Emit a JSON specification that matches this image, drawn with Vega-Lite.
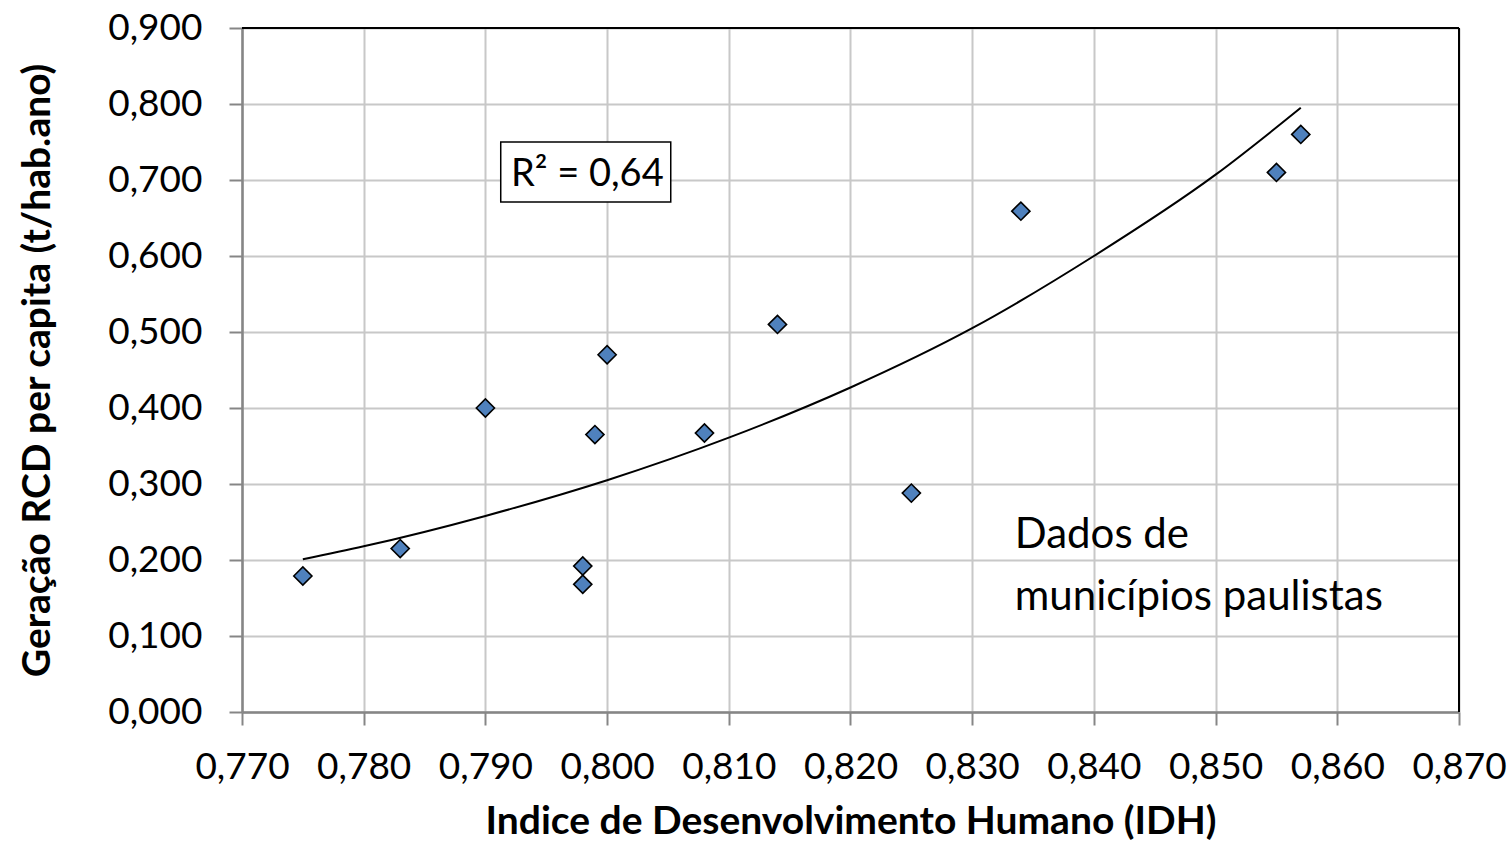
{
  "$schema": "https://vega.github.io/schema/vega-lite/v6.json",
  "width": 1217,
  "height": 684,
  "autosize": "none",
  "padding": {"left": 242, "top": 28, "right": 53, "bottom": 133},
  "background": "white",
  "config": {
    "view": {"stroke": null},
    "axis": {
      "labelFont": "Lato",
      "labelFontSize": 37,
      "labelColor": "#000000",
      "titleFont": "Lato",
      "titleFontSize": 39,
      "titleFontWeight": "bold",
      "titleColor": "#000000",
      "domainColor": "#868686",
      "domainWidth": 2.5,
      "tickColor": "#868686",
      "tickWidth": 2,
      "tickSize": 13,
      "gridColor": "#c8c8c8",
      "gridWidth": 2,
      "zindex": 1
    }
  },
  "datasets": {
    "municipios": [
      {"idh": 0.775, "rcd": 0.179},
      {"idh": 0.783, "rcd": 0.215},
      {"idh": 0.790, "rcd": 0.400},
      {"idh": 0.798, "rcd": 0.192},
      {"idh": 0.798, "rcd": 0.168},
      {"idh": 0.799, "rcd": 0.365},
      {"idh": 0.800, "rcd": 0.470},
      {"idh": 0.808, "rcd": 0.367},
      {"idh": 0.814, "rcd": 0.510},
      {"idh": 0.825, "rcd": 0.288},
      {"idh": 0.834, "rcd": 0.659},
      {"idh": 0.855, "rcd": 0.710},
      {"idh": 0.857, "rcd": 0.760}
    ],
    "tendencia": [
      {"idh": 0.775, "rcd": 0.201},
      {"idh": 0.780, "rcd": 0.218},
      {"idh": 0.790, "rcd": 0.258},
      {"idh": 0.800, "rcd": 0.305},
      {"idh": 0.810, "rcd": 0.361},
      {"idh": 0.820, "rcd": 0.427},
      {"idh": 0.830, "rcd": 0.505},
      {"idh": 0.840, "rcd": 0.600},
      {"idh": 0.850, "rcd": 0.707},
      {"idh": 0.857, "rcd": 0.795}
    ],
    "ajuste": [{"rotulo": "R² = 0,64"}],
    "fonte": [{"rotulo": "Dados de municípios paulistas"}]
  },
  "layer": [
    {
      "data": {"name": "tendencia"},
      "mark": {"type": "line", "color": "#000000", "strokeWidth": 2, "interpolate": "monotone"},
      "encoding": {
        "x": {
          "field": "idh",
          "type": "quantitative",
          "title": "Indice de Desenvolvimento Humano (IDH)",
          "scale": {"domain": [0.77, 0.87], "nice": false, "zero": false},
          "axis": {
            "values": [0.77, 0.78, 0.79, 0.8, 0.81, 0.82, 0.83, 0.84, 0.85, 0.86, 0.87],
            "labelExpr": "replace(format(datum.value, '.3f'), '.', ',')",
            "labelPadding": 24,
            "titlePadding": 17,
            "labelFlush": false,
            "labelOverlap": false
          }
        },
        "y": {
          "field": "rcd",
          "type": "quantitative",
          "title": "Geração RCD per capita (t/hab.ano)",
          "scale": {"domain": [0, 0.9], "nice": false},
          "axis": {
            "values": [0, 0.1, 0.2, 0.3, 0.4, 0.5, 0.6, 0.7, 0.8, 0.9],
            "labelExpr": "replace(format(datum.value, '.3f'), '.', ',')",
            "labelPadding": 27,
            "titlePadding": 50,
            "labelFlush": false,
            "labelOverlap": false
          }
        }
      }
    },
    {
      "data": {"name": "ajuste"},
      "mark": {"type": "rule", "color": "#000000", "strokeWidth": 2},
      "encoding": {"y": {"datum": 0.9, "type": "quantitative"}}
    },
    {
      "data": {"name": "ajuste"},
      "mark": {"type": "rule", "color": "#000000", "strokeWidth": 2},
      "encoding": {"x": {"datum": 0.87, "type": "quantitative"}}
    },
    {
      "data": {"name": "municipios"},
      "mark": {"type": "point", "shape": "diamond", "filled": true, "fill": "#4F81BD", "stroke": "#000000", "strokeWidth": 1.6, "size": 330, "opacity": 1},
      "encoding": {
        "x": {"field": "idh", "type": "quantitative"},
        "y": {"field": "rcd", "type": "quantitative"}
      }
    },
    {
      "data": {"name": "ajuste"},
      "mark": {"type": "rect", "fill": "white", "stroke": "#000000", "strokeWidth": 1.5},
      "encoding": {
        "x": {"datum": 0.79126, "type": "quantitative"},
        "x2": {"datum": 0.80523},
        "y": {"datum": 0.750, "type": "quantitative"},
        "y2": {"datum": 0.671}
      }
    },
    {
      "data": {"name": "ajuste"},
      "mark": {"type": "text", "font": "Lato", "fontSize": 38, "align": "left", "baseline": "alphabetic", "color": "#000000"},
      "encoding": {
        "x": {"datum": 0.7921, "type": "quantitative"},
        "y": {"datum": 0.6916, "type": "quantitative"},
        "text": {"field": "rotulo"}
      }
    },
    {
      "data": {"name": "fonte"},
      "mark": {"type": "text", "font": "Lato", "fontSize": 42, "align": "left", "baseline": "alphabetic", "color": "#000000", "lineHeight": 62},
      "encoding": {
        "x": {"datum": 0.8335, "type": "quantitative"},
        "y": {"datum": 0.2158, "type": "quantitative"},
        "text": {"value": ["Dados de", "municípios paulistas"]}
      }
    }
  ]
}
